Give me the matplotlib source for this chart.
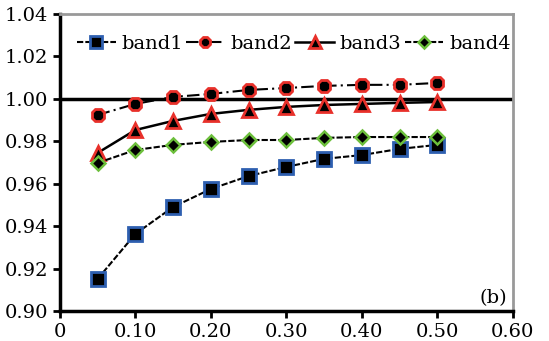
import numpy as np
import matplotlib.pyplot as plt

plt.rcParams['font.family'] = ['DejaVu Serif']

x = [0.05, 0.10, 0.15, 0.20, 0.25, 0.30, 0.35, 0.40, 0.45, 0.50]
band1 = [0.9151, 0.9363, 0.9490, 0.9575, 0.9636, 0.9679, 0.9717, 0.9735, 0.9764, 0.9783]
band2 = [0.9924, 0.9976, 1.0009, 1.0023, 1.0042, 1.0051, 1.0061, 1.0066, 1.0066, 1.0075]
band3 = [0.9745, 0.9853, 0.9896, 0.9929, 0.9948, 0.9962, 0.9971, 0.9976, 0.9981, 0.9985]
band4 = [0.9698, 0.9759, 0.9783, 0.9797, 0.9806, 0.9806, 0.9816, 0.9820, 0.9820, 0.9820]

xticks = [0, 0.10, 0.20, 0.30, 0.40, 0.50, 0.60]
xticklabels = ["0", "0.10", "0.20", "0.30", "0.40", "0.50", "0.60"]
yticks = [0.90, 0.92, 0.94, 0.96, 0.98, 1.00, 1.02, 1.04]

fig = plt.figure(figsize=(5.49, 3.41), dpi=100)
ax = fig.add_axes([0.109, 0.088, 0.825, 0.871])

ax.axhline(1.0, color='black', lw=2.5, zorder=1)

ax.plot(x, band1, ls=(0, (3, 1)), color='black', lw=1.5, marker='s', ms=10,
        mfc='black', mec='#2e5fb0', mew=2, label='band1')
ax.plot(x, band2, ls=(0, (6, 2, 1, 2)), color='black', lw=1.5, marker='8', ms=10,
        mfc='black', mec='#e8302a', mew=2, label='band2')
ax.plot(x, band3, ls='-', color='black', lw=1.8, marker='^', ms=10,
        mfc='black', mec='#e8302a', mew=2, label='band3')
ax.plot(x, band4, ls=(0, (3, 1)), color='black', lw=1.5, marker='D', ms=7.5,
        mfc='black', mec='#6cbf3c', mew=1.8, label='band4')

ax.set_xlim(0, 0.60)
ax.set_ylim(0.90, 1.04)
ax.set_xticks(xticks)
ax.set_xticklabels(xticklabels)
ax.set_yticks(yticks)
ax.set_yticklabels([f"{v:.2f}" for v in yticks])
ax.tick_params(labelsize=14, width=2, length=5, direction='out')

for s in ['left', 'bottom']:
    ax.spines[s].set_linewidth(2.5)
for s in ['top', 'right']:
    ax.spines[s].set_color('#999999')
    ax.spines[s].set_linewidth(2)

ax.text(0.593, 0.902, "(b)", ha='right', va='bottom', fontsize=14)

ax.legend(loc='upper left', bbox_to_anchor=(0.02, 0.955), ncol=4, frameon=False,
          fontsize=14, handlelength=2.0, handletextpad=0.3, columnspacing=0.15,
          markerscale=0.85, borderaxespad=0)

fig.savefig('out.png', dpi=100)
